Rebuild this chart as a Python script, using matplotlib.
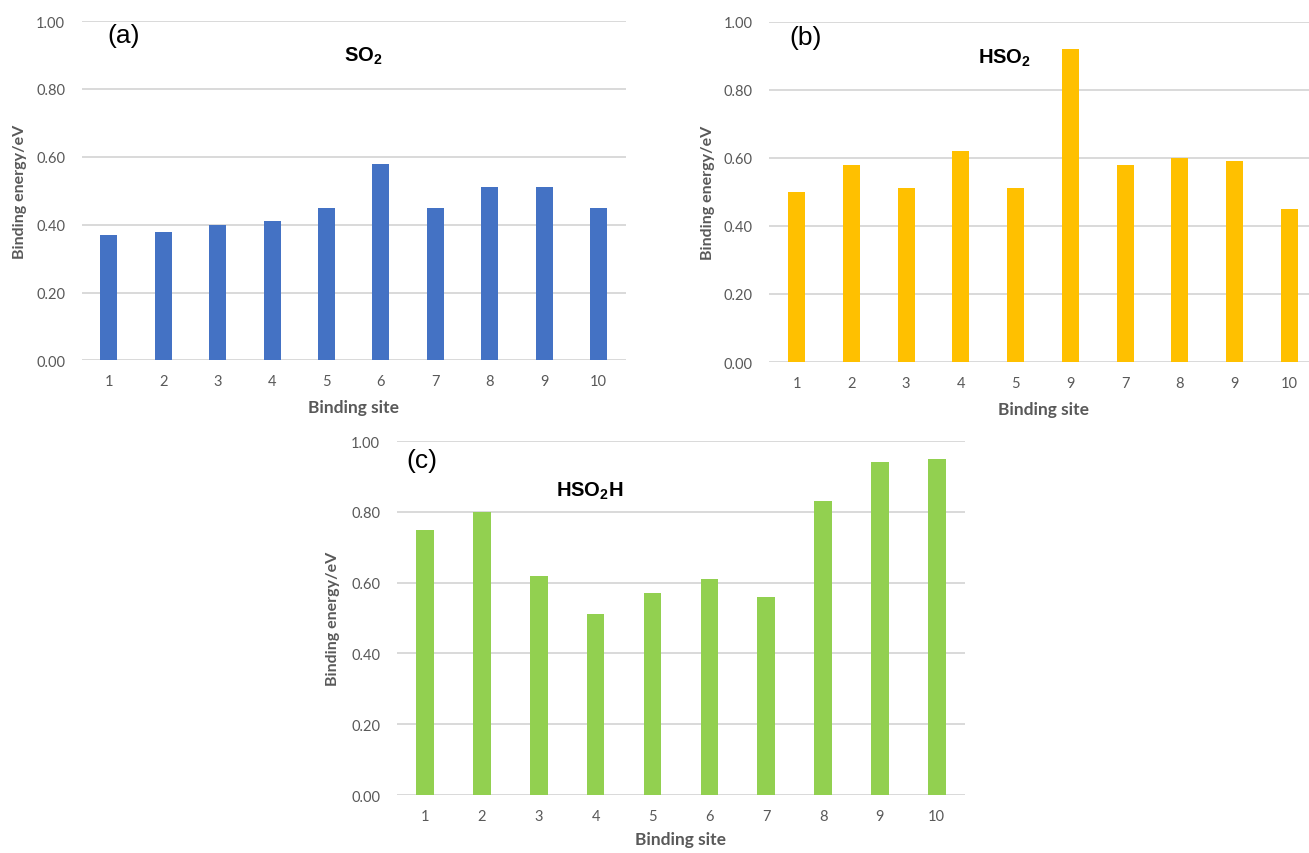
import matplotlib
matplotlib.use("Agg")
import matplotlib.pyplot as plt
from matplotlib.ticker import FormatStrFormatter

# Binding energies (eV) for each adsorbate at ten binding sites
so2_sites = ["1", "2", "3", "4", "5", "6", "7", "8", "9", "10"]
so2_energy = [0.37, 0.38, 0.40, 0.41, 0.45, 0.58, 0.45, 0.51, 0.51, 0.45]

hso2_sites = ["1", "2", "3", "4", "5", "9", "7", "8", "9", "10"]
hso2_energy = [0.50, 0.58, 0.51, 0.62, 0.51, 0.92, 0.58, 0.60, 0.59, 0.45]

hso2h_sites = ["1", "2", "3", "4", "5", "6", "7", "8", "9", "10"]
hso2h_energy = [0.75, 0.80, 0.62, 0.51, 0.57, 0.61, 0.56, 0.83, 0.94, 0.95]

y_ticks = [0.0, 0.2, 0.4, 0.6, 0.8, 1.0]

TICK_FONT = ["Lato", "DejaVu Sans"]
TITLE_FONT = ["Liberation Sans", "DejaVu Sans"]
GREY = "#595959"

# bold Arial-like mathtext for the chemical formula subscripts
plt.rcParams["mathtext.fontset"] = "custom"
plt.rcParams["mathtext.rm"] = "Liberation Sans:bold"
plt.rcParams["mathtext.bf"] = "Liberation Sans:bold"

fig = plt.figure(figsize=(13.09, 8.54), dpi=100)
fig.patch.set_facecolor("white")

panels = [
    # (rect, sites, values, colour, title, title_xy, letter, letter_xy, xlabel_y)
    ([0.0624, 0.5767, 0.4156, 0.3975], so2_sites, so2_energy, "#4472C4",
     r"SO$_{\mathbf{2}}$", (0.517, 0.900), "(a)", (0.078, 0.959), -0.113),
    ([0.5877, 0.5749, 0.4182, 0.3987], hso2_sites, hso2_energy, "#FFC000",
     r"HSO$_{\mathbf{2}}$", (0.430, 0.896), "(b)", (0.067, 0.954), -0.113),
    ([0.3031, 0.0679, 0.4342, 0.4145], hso2h_sites, hso2h_energy, "#92D050",
     r"HSO$_{\mathbf{2}}$H", (0.340, 0.861), "(c)", (0.0445, 0.946), -0.103),
]

for rect, sites, values, colour, title, title_xy, letter, letter_xy, xl_y in panels:
    ax = fig.add_axes(rect)
    x = list(range(1, len(values) + 1))
    ax.bar(x, values, width=0.31, color=colour, zorder=3)

    ax.set_xlim(0.5, len(values) + 0.5)
    ax.set_ylim(0, 1.0)
    ax.set_xticks(x)
    ax.set_xticklabels(sites)
    ax.set_yticks(y_ticks)
    ax.yaxis.set_major_formatter(FormatStrFormatter("%.2f"))

    ax.grid(axis="y", color="#D9D9D9", linewidth=1.4, zorder=0)
    ax.set_axisbelow(True)
    for sp in ax.spines.values():
        sp.set_visible(False)
    ax.tick_params(axis="both", length=0, labelcolor=GREY, labelsize=10.5)
    ax.tick_params(axis="x", pad=10)
    ax.tick_params(axis="y", pad=12)
    for lab in ax.get_xticklabels() + ax.get_yticklabels():
        lab.set_family(TICK_FONT)

    ax.set_ylabel("Binding energy/eV", color=GREY, fontsize=11.5,
                  fontweight="bold", family=TICK_FONT)
    ax.yaxis.set_label_coords(-0.100, 0.5)
    ax.set_xlabel("Binding site", color=GREY, fontsize=12.5,
                  fontweight="bold", family=TICK_FONT)
    ax.xaxis.set_label_coords(0.5, xl_y)

    ax.text(title_xy[0], title_xy[1], title, transform=ax.transAxes,
            ha="center", va="center", fontsize=14.5, fontweight="bold",
            family=TITLE_FONT, color="black")
    ax.text(letter_xy[0], letter_xy[1], letter, transform=ax.transAxes,
            ha="center", va="center", fontsize=19, family=TITLE_FONT,
            color="black")

fig.savefig("out.png", dpi=100, facecolor="white")
